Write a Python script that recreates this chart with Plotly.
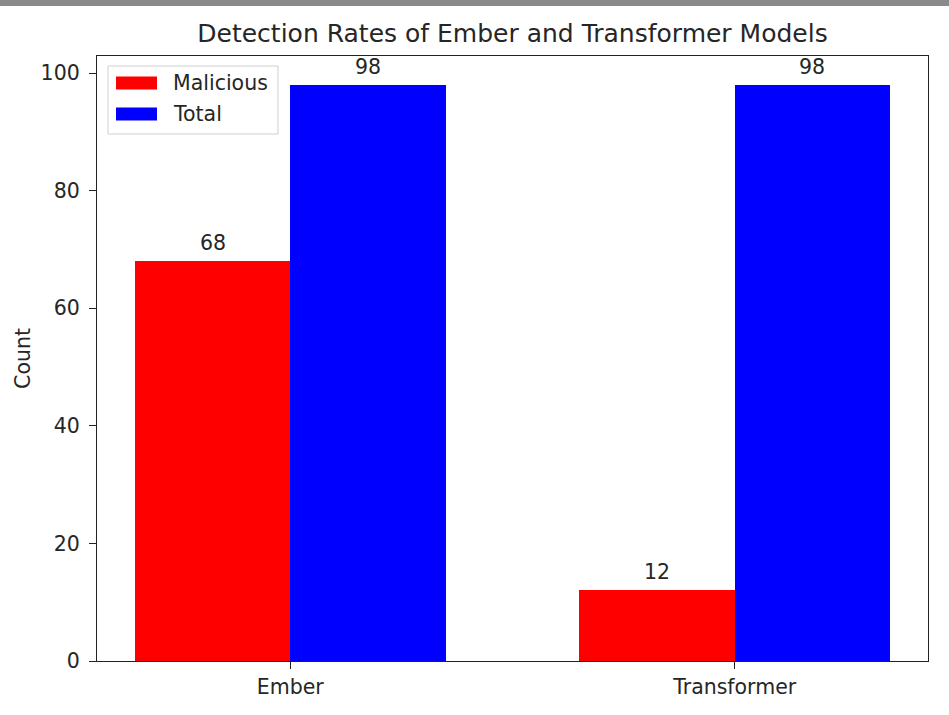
import plotly.graph_objects as go

categories = ["Ember", "Transformer"]
malicious = [68, 12]
total = [98, 98]
series_names = ["Malicious", "Total"]
series_colors = ["#ff0000", "#0000ff"]
y_ticks = [0, 20, 40, 60, 80, 100]

W, H = 949, 715
L, R, T, B = 97, 21, 56, 54
bar_w = 0.35
FONT = "DejaVu Sans"
FS = 20.5
TXT = "#262626"

xpos = list(range(len(categories)))
fig = go.Figure()
for name, vals, col, off in [(series_names[0], malicious, series_colors[0], -bar_w / 2),
                             (series_names[1], total, series_colors[1], bar_w / 2)]:
    xs = [p + off for p in xpos]
    fig.add_trace(go.Bar(
        x=xs, y=vals, width=bar_w, name=name,
        marker=dict(color=col, line=dict(width=0)),
        showlegend=False, hoverinfo="skip",
    ))
    for xv, yv in zip(xs, vals):
        fig.add_annotation(x=xv, y=yv, xref="x", yref="y", text=str(yv),
                           showarrow=False, yanchor="bottom", yshift=4,
                           font=dict(family=FONT, size=FS, color=TXT))

ymax = max(total + malicious) * 1.05
fig.update_layout(
    width=W, height=H, margin=dict(l=L, r=R, t=T, b=B),
    paper_bgcolor="white", plot_bgcolor="white",
    font=dict(family=FONT, size=FS, color=TXT),
    title=dict(text="Detection Rates of Ember and Transformer Models",
               x=(L + (W - R)) / 2 / W, xanchor="center", y=1 - 33 / H, yanchor="middle",
               font=dict(family=FONT, size=25, color=TXT)),
    xaxis=dict(range=[-0.435, 1.435], tickvals=xpos, ticktext=categories,
               showgrid=False, zeroline=False, showline=True, linecolor="#222", linewidth=1.3,
               mirror=True, ticks="outside", ticklen=7, tickcolor="#222",
               tickfont=dict(size=FS), ticklabelstandoff=0),
    yaxis=dict(range=[0, ymax], tickvals=y_ticks, showgrid=False, zeroline=False,
               showline=True, linecolor="#222", linewidth=1.3, mirror=True,
               ticks="outside", ticklen=7, tickcolor="#222", tickfont=dict(size=FS),
               ticklabelstandoff=5,
               title=dict(text="Count", standoff=4, font=dict(size=FS))),
    bargap=0,
)

ph = H - T - B
pw = W - L - R
def px_x(x):
    return (x - L) / pw
def px_y(y):
    return 1 - (y - T) / ph

# top gray strip
fig.add_shape(type="rect", xref="paper", yref="paper",
              x0=px_x(0), x1=px_x(W), y0=px_y(0), y1=px_y(6),
              fillcolor="#8a8a8a", line=dict(width=0), layer="above")

# legend box
fig.add_shape(type="rect", xref="paper", yref="paper",
              x0=px_x(108), x1=px_x(278), y0=px_y(66), y1=px_y(134),
              fillcolor="rgba(255,255,255,0.8)", line=dict(color="#d0d0d0", width=1), layer="above")
for i, (name, col) in enumerate(zip(series_names, series_colors)):
    yc = 83 + i * 31
    fig.add_shape(type="rect", xref="paper", yref="paper",
                  x0=px_x(116), x1=px_x(157), y0=px_y(yc - 6.5), y1=px_y(yc + 6.5),
                  fillcolor=col, line=dict(width=0), layer="above")
    fig.add_annotation(xref="paper", yref="paper", x=px_x(171), y=px_y(yc),
                       xanchor="left", yanchor="middle", text=name, showarrow=False,
                       font=dict(family=FONT, size=FS, color=TXT))

fig.write_html("out.html", config={"displayModeBar": False},
               post_script="document.body.style.margin='0';document.body.style.padding='0';")
